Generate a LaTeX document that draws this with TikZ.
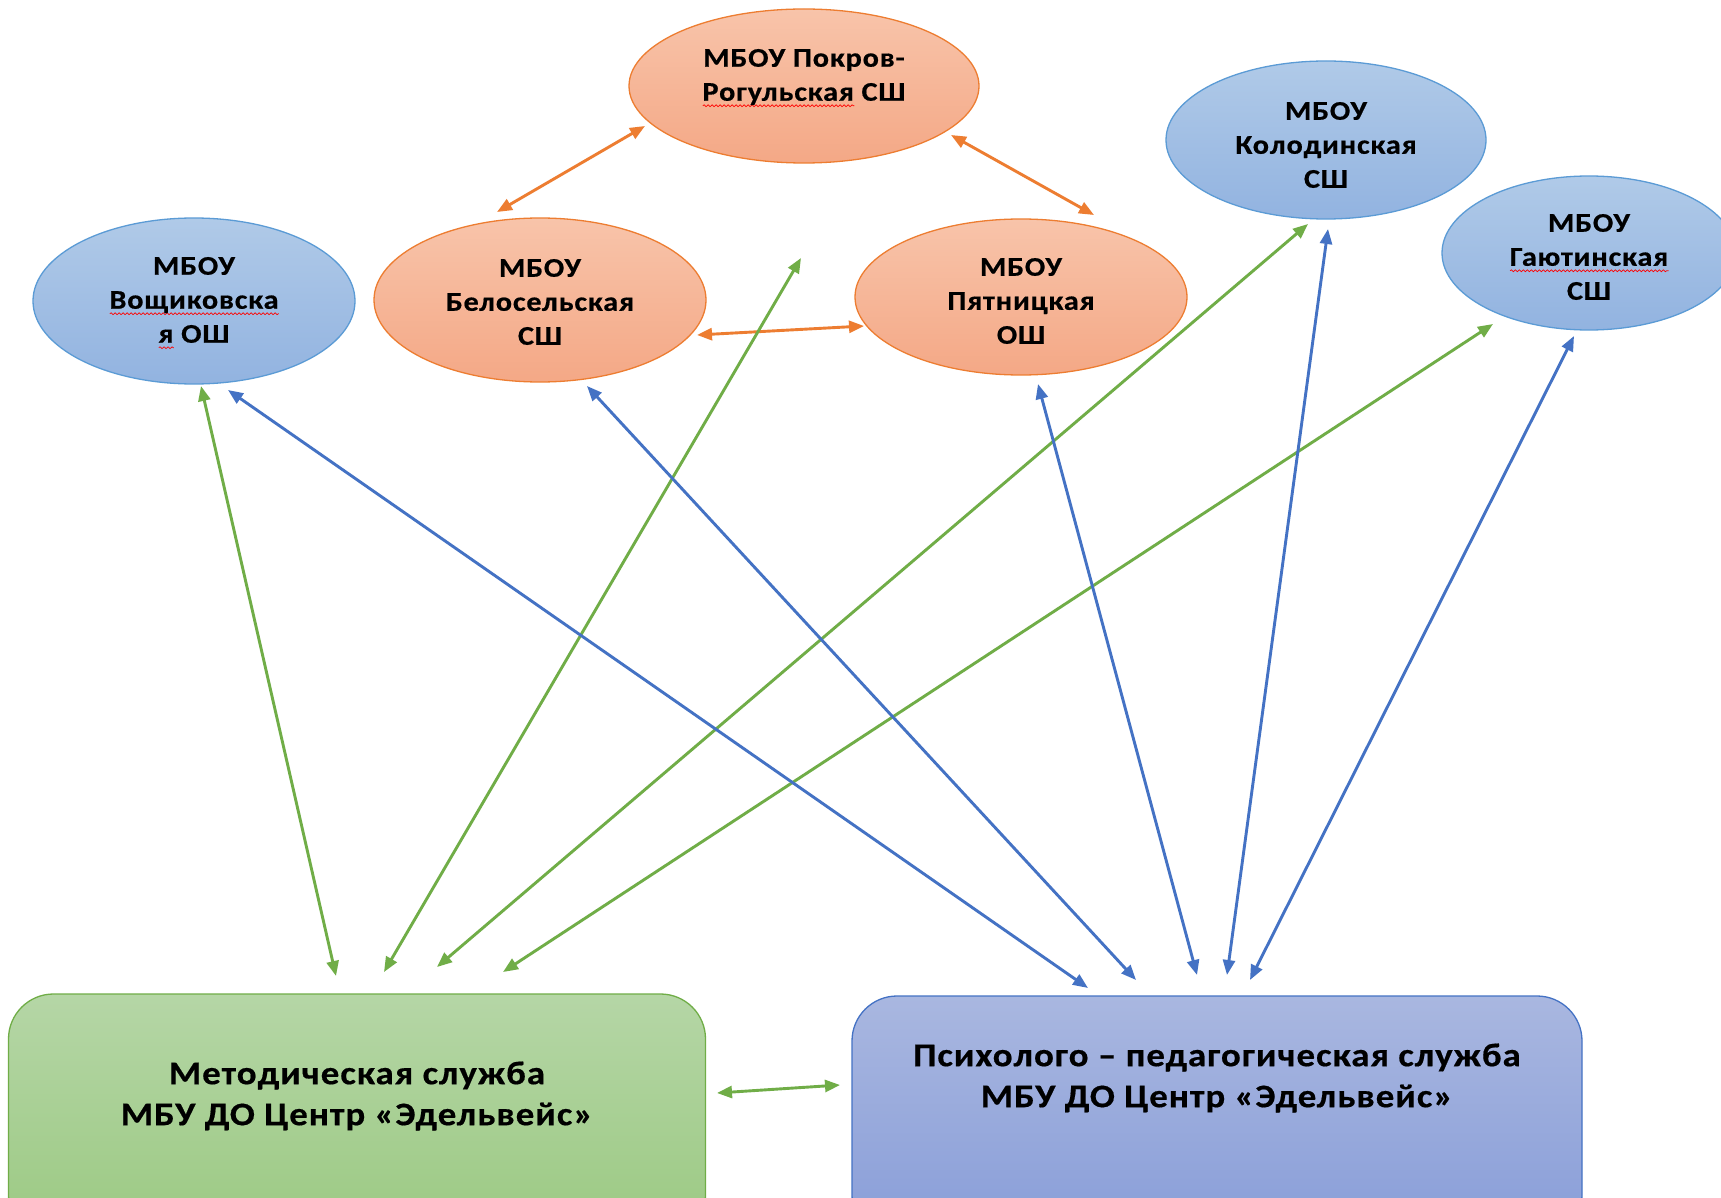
\documentclass[tikz,border=0pt]{standalone}
\usepackage{fontspec}
\setmainfont{Carlito}[BoldFeatures={FakeStretch=1.12,LetterSpace=3,FakeBold=0.5}]
\usetikzlibrary{arrows.meta,shapes.geometric,decorations.pathmorphing}
\newlength\rwlen
\newcommand\redwave[1]{\settowidth\rwlen{#1}\rlap{\tikz[baseline=0pt]\draw[red,line width=0.7pt,decorate,decoration={snake,segment length=4pt,amplitude=0.9pt}] (0pt,-5pt) -- (\rwlen,-5pt);}#1}
\definecolor{orT}{HTML}{F8C4AA}
\definecolor{orB}{HTML}{F4A886}
\definecolor{orL}{HTML}{ED7D31}
\definecolor{blT}{HTML}{B0CAE8}
\definecolor{blB}{HTML}{92B3E0}
\definecolor{blL}{HTML}{5B9BD5}
\definecolor{grT}{HTML}{B5D6A6}
\definecolor{grB}{HTML}{9BC982}
\definecolor{grL}{HTML}{70AD47}
\definecolor{bbT}{HTML}{A9B7E0}
\definecolor{bbB}{HTML}{889DD8}
\definecolor{bbL}{HTML}{4472C4}
\definecolor{arG}{HTML}{70AD47}
\definecolor{arB}{HTML}{4472C4}
\tikzset{
  school/.style={ellipse, inner sep=0pt, line width=1.3pt},
  stext/.style={align=center, font=\fontsize{27}{34}\selectfont\bfseries},
  btext/.style={align=center, font=\fontsize{33}{41}\selectfont\bfseries},
  orangeS/.style={school, draw=orL, top color=orT, bottom color=orB},
  blueS/.style={school, draw=blL, top color=blT, bottom color=blB},
  service/.style={rectangle, rounded corners=45pt, line width=1.3pt, inner sep=0pt},
  arr/.style={line width=2.9pt, {Triangle[length=15pt,width=12pt]}-{Triangle[length=15pt,width=12pt]}},
  oarr/.style={arr, draw=orL, fill=orL},
  garr/.style={arr, draw=arG, fill=arG},
  barr/.style={arr, draw=arB, fill=arB},
}
\begin{document}
\begin{tikzpicture}[x=1pt,y=-1pt]
\useasboundingbox (0,0) rectangle (1721,1198);
\fill[white] (0,0) rectangle (1721,1198);

% schools
\node[orangeS, minimum width=350pt, minimum height=154pt,
  label={[stext,yshift=8pt]center:МБОУ Покров-\\\redwave{Рогульская} СШ}]
  (pokrov) at (804,86) {};
\node[blueS, minimum width=322pt, minimum height=166pt,
  label={[stext,yshift=-2pt]center:МБОУ\\\redwave{Вощиковска}\\\redwave{я} ОШ}]
  (voshch) at (194,301) {};
\node[orangeS, minimum width=332pt, minimum height=164pt,
  label={[stext,yshift=-2pt]center:МБОУ\\Белосельская\\СШ}]
  (belos) at (540,300) {};
\node[orangeS, minimum width=332pt, minimum height=156pt,
  label={[stext,yshift=-4pt]center:МБОУ\\Пятницкая\\ОШ}]
  (pyatn) at (1021,297) {};
\node[blueS, minimum width=320pt, minimum height=158pt,
  label={[stext,yshift=-5pt]center:МБОУ\\Колодинская\\СШ}]
  (kolod) at (1326,140) {};
\node[blueS, minimum width=294pt, minimum height=154pt,
  label={[stext,yshift=-4pt]center:МБОУ\\\redwave{Гаютинская}\\СШ}]
  (gayut) at (1589,253) {};

% services
\node[service, draw=grL, top color=grT, bottom color=grB,
  minimum width=697pt, minimum height=246pt,
  label={[btext,yshift=21pt]center:Методическая служба\\МБУ ДО Центр «Эдельвейс»}]
  (metod) at (357,1117) {};
\node[service, draw=bbL, top color=bbT, bottom color=bbB,
  minimum width=730pt, minimum height=244pt,
  label={[btext,yshift=40pt]center:Психолого – педагогическая служба\\МБУ ДО Центр «Эдельвейс»}]
  (psych) at (1217,1118) {};

% connector ends
\coordinate (pk1) at (645,126);  \coordinate (bs1) at (497,212);
\coordinate (pk2) at (951,135);  \coordinate (pt1) at (1094,215);
\coordinate (bs2) at (697,335);  \coordinate (pt2) at (864,326);
\coordinate (vs1) at (201,386);  \coordinate (mt1) at (336,976);
\coordinate (pk3) at (801,258);  \coordinate (mt2) at (384,972);
\coordinate (kd1) at (1308,224); \coordinate (mt3) at (437,967);
\coordinate (gy1) at (1493,324); \coordinate (mt4) at (503,972);
\coordinate (mt5) at (717,1093); \coordinate (ps0) at (840,1085);
\coordinate (vs2) at (228,390);  \coordinate (ps1) at (1088,988);
\coordinate (bs3) at (587,386);  \coordinate (ps2) at (1136,980);
\coordinate (pt3) at (1038,384); \coordinate (ps3) at (1197,975);
\coordinate (kd2) at (1328,229); \coordinate (ps4) at (1227,975);
\coordinate (gy2) at (1574,336); \coordinate (ps5) at (1250,980);

% orange connectors
\draw[oarr] (pk1) -- (bs1);
\draw[oarr] (pk2) -- (pt1);
\draw[oarr] (bs2) -- (pt2);
% green connectors
\draw[garr] (vs1) -- (mt1);
\draw[garr] (pk3) -- (mt2);
\draw[garr] (kd1) -- (mt3);
\draw[garr] (gy1) -- (mt4);
\draw[garr] (mt5) -- (ps0);
% blue connectors
\draw[barr] (vs2) -- (ps1);
\draw[barr] (bs3) -- (ps2);
\draw[barr] (pt3) -- (ps3);
\draw[barr] (kd2) -- (ps4);
\draw[barr] (gy2) -- (ps5);
\end{tikzpicture}
\end{document}
